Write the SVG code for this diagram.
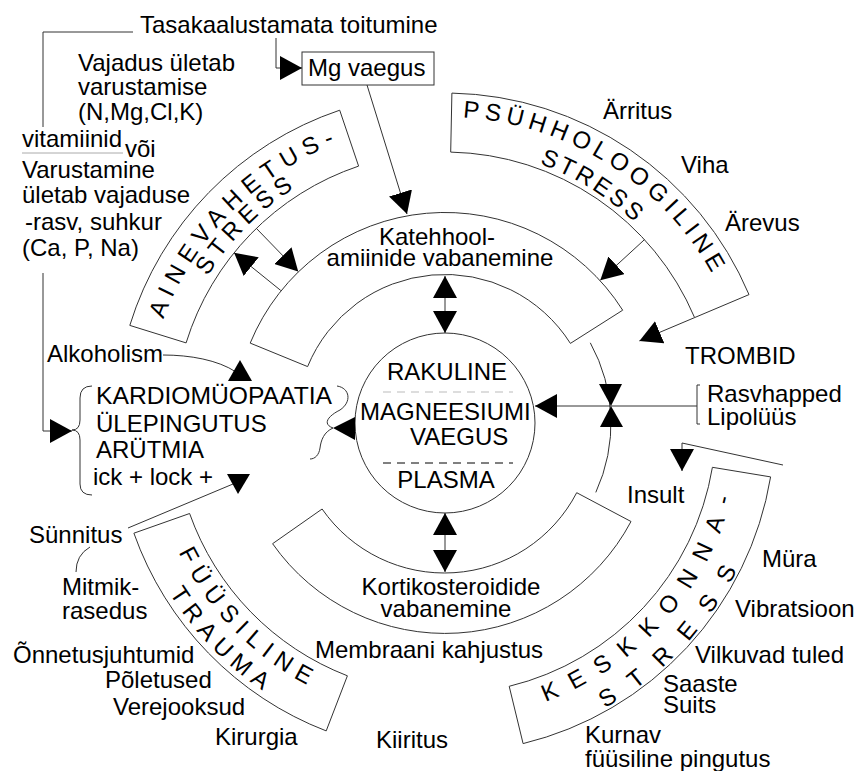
<svg xmlns="http://www.w3.org/2000/svg" xmlns:xlink="http://www.w3.org/1999/xlink" width="859" height="771" viewBox="0 0 859 771">
<style>
text{font-family:"Liberation Sans",Arial,sans-serif;font-size:24px;fill:#000}
.ln{fill:none;stroke:#333;stroke-width:1}
.tri{fill:#000;stroke:none}
.band{fill:#fff;stroke:#333;stroke-width:1}
.mid{text-anchor:middle}
</style>
<defs>
<marker id="ah" viewBox="0 0 22 24" markerWidth="22" markerHeight="24" refX="22" refY="12" orient="auto" markerUnits="userSpaceOnUse"><path d="M0,0L22,12L0,24Z" fill="#000"/></marker>
<marker id="ah2" viewBox="0 0 22 24" markerWidth="22" markerHeight="24" refX="22" refY="12" orient="auto-start-reverse" markerUnits="userSpaceOnUse"><path d="M0,0L22,12L0,24Z" fill="#000"/></marker>
<path id="pAine" d="M155.2,500.6 A300,300 0 0 1 522.6,133.2"/>
<path id="pAineS" d="M175.5,495.2 A279,279 0 0 1 517.2,153.5"/>
<path id="pPsy" d="M303.7,151.6 A306,306 0 0 1 750.7,436.3"/>
<path id="pPsyS" d="M315.4,179.3 A276,276 0 0 1 720.8,432.6"/>
<path id="pFys" d="M160.2,342.4 A296,296 0 0 0 517.6,709.9"/>
<path id="pFysT" d="M133.1,335.3 A324,324 0 0 0 525.0,736.9"/>
<path id="pKesk" d="M388.5,713.6 A296,296 0 0 0 724.9,326.6"/>
<path id="pKeskS" d="M377.0,742.8 A327,327 0 0 0 756.0,322.0"/>
</defs>
<rect width="859" height="771" fill="#fff"/>

<g id="ring-top">
<path class="ln" d="M250.2,343.1 A210.5,210.5 0 0 1 622.7,310.2 L570.4,343.4 A148.5,148.5 0 0 0 307.6,366.6 Z"/>
<text class="mid" x="437" y="245">Katehhool-</text>
<text class="mid" x="440" y="266">amiinide vabanemine</text>
</g>
<g id="ring-right"><path class="ln" d="M590.3,342.8 A166,166 0 0 1 595.8,492.4"/></g>
<g id="ring-bottom">
<path class="ln" d="M631.0,521.5 A210.5,210.5 0 0 1 272.6,543.7 L322.1,509.0 A149,149 0 0 0 576.7,492.7 Z"/>
<text class="mid" x="451" y="595">Kortikosteroidide</text>
<text class="mid" x="446" y="617">vabanemine</text>
</g>

<g id="center">
<circle class="ln" cx="445" cy="423" r="90"/>
<line x1="383" y1="392" x2="513" y2="392" stroke="#bbb" stroke-width="1" stroke-dasharray="8,6"/>
<line x1="383" y1="463" x2="513" y2="463" stroke="#000" stroke-width="1" stroke-dasharray="8,6"/>
<text class="mid" x="447" y="380">RAKULINE</text>
<text x="360" y="420">MAGNEESIUMI</text>
<text x="410" y="445">VAEGUS</text>
<text class="mid" x="446" y="488">PLASMA</text>
</g>

<g id="band-aine">
<path class="band" d="M129.8,325.4 A330,330 0 0 1 339.7,110.2 L358.6,166.1 A271,271 0 0 0 186.1,342.9 Z"/>
<text letter-spacing="7"><textPath xlink:href="#pAine" href="#pAine" startOffset="50%" text-anchor="middle">AINEVAHETUS-</textPath></text>
<text letter-spacing="5.6"><textPath xlink:href="#pAineS" href="#pAineS" startOffset="50%" text-anchor="middle">STRESS</textPath></text>
</g>
<g id="band-psy">
<path class="band" d="M451.9,93.1 A330,330 0 0 1 749.0,294.6 L694.6,317.6 A271,271 0 0 0 450.7,152.1 Z"/>
<text letter-spacing="5.3"><textPath xlink:href="#pPsy" href="#pPsy" startOffset="50%" text-anchor="middle">PSÜHHOLOOGILINE</textPath></text>
<text letter-spacing="3.2"><textPath xlink:href="#pPsyS" href="#pPsyS" startOffset="50%" text-anchor="middle">STRESS</textPath></text>
</g>
<g id="band-fys">
<path class="band" d="M326.2,730.9 A330,330 0 0 1 133.9,533.2 L189.6,513.5 A271,271 0 0 0 347.4,675.8 Z"/>
<text letter-spacing="7.8"><textPath xlink:href="#pFys" href="#pFys" startOffset="50.5%" text-anchor="middle">FÜÜSILINE</textPath></text>
<text letter-spacing="6.8"><textPath xlink:href="#pFysT" href="#pFysT" startOffset="50%" text-anchor="middle">TRAUMA</textPath></text>
</g>
<g id="band-kesk">
<path class="band" d="M770.6,476.9 A330,330 0 0 1 523.1,743.6 L509.2,686.3 A271,271 0 0 0 712.4,467.3 Z"/>
<text letter-spacing="14.4"><textPath xlink:href="#pKesk" href="#pKesk" startOffset="50%" text-anchor="middle">KESKKONNA-</textPath></text>
<text letter-spacing="19.6"><textPath xlink:href="#pKeskS" href="#pKeskS" startOffset="50%" text-anchor="middle">STRESS</textPath></text>
</g>

<g id="mg-box">
<rect x="302" y="52" width="132" height="33" fill="#fff" stroke="#333" stroke-width="1"/>
<text x="308" y="76">Mg vaegus</text>
</g>
<g id="nutrition">
<text x="140" y="33">Tasakaalustamata toitumine</text>
<text x="78" y="71">Vajadus ületab</text>
<text x="78" y="95">varustamise</text>
<text x="78" y="120">(N,Mg,Cl,K)</text>
<text x="22" y="147">vitamiinid</text>
<line x1="22" y1="153" x2="123" y2="153" stroke="#aaa" stroke-width="1"/>
<text x="125" y="157">või</text>
<text x="22" y="178">Varustamine</text>
<text x="22" y="203">ületab vajaduse</text>
<text x="25" y="230">-rasv, suhkur</text>
<text x="22" y="256">(Ca, P, Na)</text>
</g>
<g id="alcohol"><text x="47" y="362">Alkoholism</text></g>
<g id="cardio">
<path class="ln" d="M92,386 Q80,386 80,398 L80,420 Q80,430 72,430 Q80,430 80,440 L80,484 Q80,495 92,495"/>
<text x="96" y="404" textLength="236" lengthAdjust="spacingAndGlyphs">KARDIOMÜOPAATIA</text>
<text x="96" y="432">ÜLEPINGUTUS</text>
<text x="96" y="458">ARÜTMIA</text>
<text x="93" y="485">ick + lock +</text>
<path class="ln" d="M337,386 C350,388 352,402 340,410 C328,416 322,424 333,428 C324,432 321,440 320,448 C319,455 315,459 310,459"/>
</g>
<g id="psy-causes">
<text x="603" y="119">Ärritus</text>
<text x="681" y="173">Viha</text>
<text x="725" y="231">Ärevus</text>
</g>
<g id="trombid"><text x="685" y="364">TROMBID</text></g>
<g id="fatty">
<path class="ln" d="M700,385 H697 V424 H700"/>
<text x="707" y="402">Rasvhapped</text>
<text x="707" y="425">Lipolüüs</text>
</g>
<g id="insult"><text x="627" y="503">Insult</text></g>
<g id="env-causes">
<text x="762" y="567">Müra</text>
<text x="735" y="617">Vibratsioon</text>
<text x="695" y="663">Vilkuvad tuled</text>
<text x="663" y="692">Saaste</text>
<text x="663" y="713">Suits</text>
<text x="585" y="743">Kurnav</text>
<text x="585" y="767">füüsiline pingutus</text>
</g>
<g id="membrane"><text x="315" y="658">Membraani kahjustus</text></g>
<g id="radiation"><text x="376" y="748">Kiiritus</text></g>
<g id="trauma-causes">
<text x="29" y="543">Sünnitus</text>
<text x="62" y="595">Mitmik-</text>
<text x="62" y="619">rasedus</text>
<text x="13" y="663">Õnnetusjuhtumid</text>
<text x="105" y="688">Põletused</text>
<text x="113" y="715">Verejooksud</text>
<text x="215" y="745">Kirurgia</text>
</g>

<g id="connectors">
<path class="ln" d="M276,38 V68 H302" marker-end="url(#ah)"/>
<line class="ln" x1="367" y1="85" x2="407" y2="214" marker-end="url(#ah)"/>
<line class="ln" x1="445" y1="276" x2="445" y2="333" marker-start="url(#ah2)" marker-end="url(#ah2)"/>
<line class="ln" x1="445" y1="513" x2="445" y2="572" marker-start="url(#ah2)" marker-end="url(#ah2)"/>
<line class="ln" x1="256.4" y1="228.4" x2="298.2" y2="271.5" marker-end="url(#ah)"/>
<line class="ln" x1="280.8" y1="290.5" x2="234.1" y2="252.8" marker-end="url(#ah)"/>
<line class="ln" x1="644.5" y1="239.6" x2="600.3" y2="280.2" marker-end="url(#ah)"/>
<line class="ln" x1="694.6" y1="317.6" x2="639.4" y2="340.9" marker-end="url(#ah)"/>
<line class="ln" x1="697" y1="406" x2="535" y2="406" marker-end="url(#ah)"/>
<path class="tri" d="M599,384 L622,384 L611,406 Z"/>
<path class="tri" d="M611,406 L600,427 L623,427 Z"/>
<path class="tri" d="M333,428 L355,417 L355,440 Z"/>
<path class="ln" d="M133,32 H43 V127"/>
<path class="ln" d="M43,273 V431 H72" marker-end="url(#ah)"/>
<path class="ln" d="M163,355 C190,355 218,360 236,372"/>
<path class="tri" d="M240,360 L228,381 L252,381 Z"/>
<line class="ln" x1="128" y1="528" x2="233" y2="484"/>
<path class="tri" d="M227,474 L250,474 L238,494 Z"/>
<path class="ln" d="M90,547 Q76,555 76,572"/>
<path class="ln" d="M783,465 L682,443 L682,471" marker-end="url(#ah)"/>
</g>
</svg>
